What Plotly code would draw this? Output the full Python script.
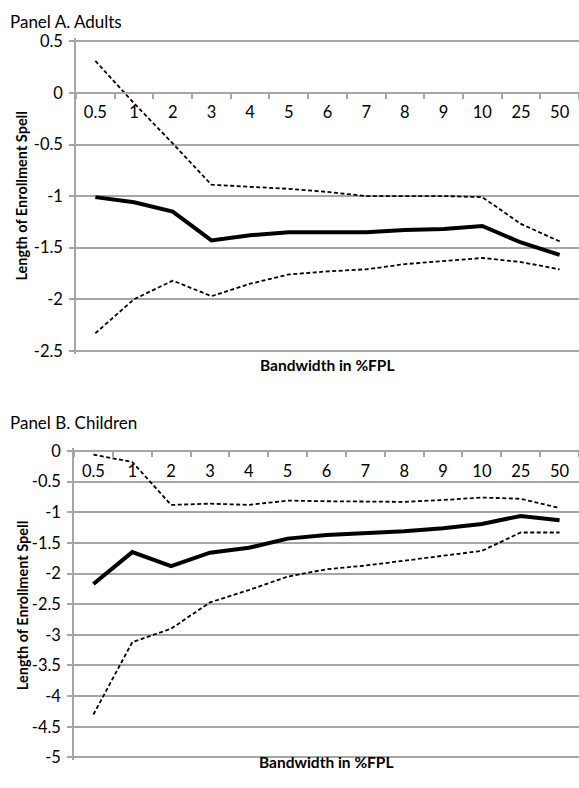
import plotly.graph_objects as go

categories = ["0.5", "1", "2", "3", "4", "5", "6", "7", "8", "9", "10", "25", "50"]

adults_est = [-1.01, -1.06, -1.15, -1.43, -1.38, -1.35, -1.35, -1.35, -1.33, -1.32, -1.29, -1.45, -1.57]
adults_upper = [0.31, -0.10, -0.49, -0.89, -0.91, -0.93, -0.96, -1.00, -1.00, -1.00, -1.01, -1.27, -1.44]
adults_lower = [-2.33, -2.00, -1.82, -1.97, -1.85, -1.76, -1.73, -1.71, -1.66, -1.63, -1.60, -1.64, -1.71]

children_est = [-2.17, -1.65, -1.88, -1.66, -1.58, -1.43, -1.37, -1.34, -1.31, -1.26, -1.19, -1.06, -1.13]
children_upper = [-0.06, -0.18, -0.88, -0.86, -0.88, -0.81, -0.82, -0.83, -0.83, -0.80, -0.76, -0.78, -0.93]
children_lower = [-4.30, -3.12, -2.90, -2.47, -2.27, -2.05, -1.93, -1.87, -1.79, -1.71, -1.63, -1.33, -1.33]

a_tickvals = [0.5, 0, -0.5, -1, -1.5, -2, -2.5]
a_ticktext = ["0.5", "0", "-0.5", "-1", "-1.5", "-2", "-2.5"]
b_tickvals = [0, -0.5, -1, -1.5, -2, -2.5, -3, -3.5, -4, -4.5, -5]
b_ticktext = ["0", "-0.5", "-1", "-1.5", "-2", "-2.5", "-3", "-3.5", "-4", "-4.5", "-5"]

W, H = 579, 788
FONT = "Lato"
GRID = "#a6a6a6"

fig = go.Figure()

def add_panel(est, up, lo, xa, ya):
    for vals, width, dash in ((up, 1.8, "4px,2.5px"), (lo, 1.8, "4px,2.5px"), (est, 4, "solid")):
        fig.add_trace(go.Scatter(x=categories, y=vals, mode="lines", xaxis=xa, yaxis=ya,
                                 line=dict(color="black", width=width, dash=dash),
                                 showlegend=False, hoverinfo="skip"))

add_panel(adults_est, adults_upper, adults_lower, "x", "y")
add_panel(children_est, children_upper, children_lower, "x2", "y2")

# pixel geometry
a_left, a_top, a_bot = 76, 35, 350
b_left, b_top, b_bot = 74, 452, 764
eps = 3.0  # px of padding so edge gridlines are drawn

def py(p):
    return 1 - p / H

xcommon = dict(type="category", showgrid=False, showline=True, linecolor=GRID, linewidth=1.5,
               ticks="outside", ticklen=5, tickcolor=GRID, tickwidth=1.5, tickson="boundaries",
               tickfont=dict(family=FONT, size=16.5, color="black"), zeroline=False,
               range=[-0.5, 12.5], ticklabelstandoff=5)
ycommon = dict(showgrid=True, gridcolor=GRID, gridwidth=1.5, zeroline=False, showline=True,
               linecolor=GRID, linewidth=1.5, ticks="outside", ticklen=5, tickcolor=GRID,
               tickwidth=1.5, tickfont=dict(family=FONT, size=16.5, color="black"),
               ticklabelstandoff=3)

a_zero = a_top + (a_bot - a_top) * (0.5 / 3.0)
a_pad = eps * 3.0 / (a_bot - a_top)
b_pad = eps * 5.0 / (b_bot - b_top)
fig.update_layout(
    width=W, height=H, margin=dict(l=0, r=0, t=0, b=0),
    paper_bgcolor="white", plot_bgcolor="white",
    xaxis=dict(domain=[a_left / W, 1], anchor="free", position=py(a_zero), **xcommon),
    yaxis=dict(domain=[py(a_bot + eps), py(a_top - eps)], anchor="x",
               range=[-2.5 - a_pad, 0.5 + a_pad],
               tickvals=a_tickvals, ticktext=a_ticktext, **ycommon),
    xaxis2=dict(domain=[b_left / W, 1], anchor="free", position=py(b_top), **xcommon),
    yaxis2=dict(domain=[py(b_bot + eps), py(b_top - eps)], anchor="x2",
                range=[-5 - b_pad, 0 + b_pad],
                tickvals=b_tickvals, ticktext=b_ticktext, **ycommon),
)

ann = [
    dict(text="Panel A. Adults", x=8 / W, y=py(15), xanchor="left", yanchor="middle",
         font=dict(family=FONT, size=17, color="black")),
    dict(text="Panel B. Children", x=8 / W, y=py(423), xanchor="left", yanchor="middle",
         font=dict(family=FONT, size=17, color="black")),
    dict(text="<b>Bandwidth in %FPL</b>", x=(a_left + W) / 2 / W, y=py(364), xanchor="center",
         yanchor="middle", font=dict(family=FONT, size=15.5, color="black")),
    dict(text="<b>Bandwidth in %FPL</b>", x=(b_left + W) / 2 / W, y=py(769), xanchor="center",
         yanchor="middle", font=dict(family=FONT, size=15.5, color="black")),
    dict(text="<b>Length of Enrollment Spell</b>", x=22 / W, y=py(193), textangle=-90,
         xanchor="center", yanchor="middle", font=dict(family=FONT, size=14.5, color="black")),
    dict(text="<b>Length of Enrollment Spell</b>", x=22 / W, y=py(610), textangle=-90,
         xanchor="center", yanchor="middle", font=dict(family=FONT, size=14.5, color="black")),
]
for a in ann:
    a.update(xref="paper", yref="paper", showarrow=False)
fig.update_layout(annotations=ann)

fig.write_html("out.html")
